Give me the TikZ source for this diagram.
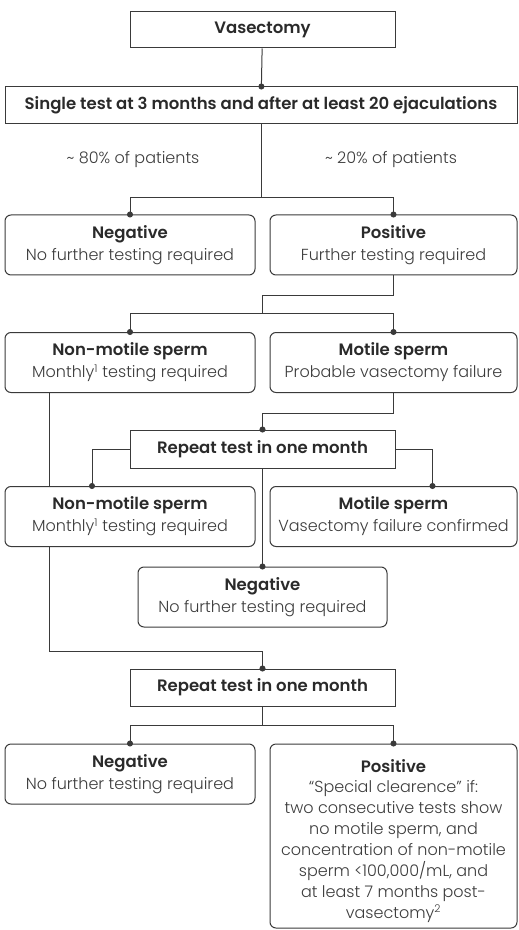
\documentclass[tikz,border=0pt]{standalone}
\usepackage{fontspec}
\setmainfont{Poppins}[UprightFont=* Light, BoldFont=* SemiBold]
\usetikzlibrary{arrows.meta,calc,positioning}
\definecolor{linegray}{HTML}{3A3A3A}
\definecolor{textgray}{HTML}{3C3C3C}
\definecolor{headgray}{HTML}{2A2A2A}
\tikzset{
  box/.style = {
    draw=linegray,
    line width=0.75pt,
    inner sep=2pt,
    align=center,
    text=textgray,
    font=\fontsize{12}{16.5}\selectfont
  },
  sbox/.style = {
    box,
    minimum height=27.75pt
  },
  rbox/.style = {
    box,
    rounded corners=4.5pt,
    minimum width=187.5pt,
    minimum height=45pt
  },
  share/.style = {
    text=textgray,
    font=\fontsize{12}{16}\selectfont
  },
  link/.style = {
    line width=0.75pt,
    draw=linegray
  },
  arc/.style = {
    link,
    -{Circle[length=4.5pt]},
    shorten >=-2.25pt
  }
}
\newcommand\head[1]{{\fontsize{12.4}{16.5}\selectfont\textbf{\color{headgray}#1}}}

\begin{document}
\begin{tikzpicture}[x=0.75pt,y=-0.75pt]
	\useasboundingbox (0,0) rectangle (518,930);
	\node[sbox, minimum width=198.75pt, minimum height=27pt] (vas) at (262.5,30) {\head{Vasectomy}};
	\node[sbox, minimum width=384pt] (single) at (261,105.5) {\head{Single test at 3 months and after at least 20 ejaculations}};
	\node[share] (p80) at (133,160) {\textasciitilde{} 80\% of patients};
	\node[share] (p20) at (391,160) {\textasciitilde{} 20\% of patients};
	
	\node[rbox] (neg) at (130,245) {\head{Negative}\\No further testing required};
	\node[rbox, minimum width=185.25pt] (pos) at (393.5,245) {\head{Positive}\\Further testing required};
	
	\node[rbox] (nm1) at (130,362.5) {\head{Non-motile sperm}\\Monthly\textsuperscript{1} testing required};
	\node[rbox, minimum width=185.25pt] (mot1) at (393.5,362.5) {\head{Motile sperm}\\Probable vasectomy failure};
	
	\node[sbox, minimum width=198.75pt, minimum height=28.5pt] (rep1) at (262.5,449) {\head{Repeat test in one month}};
	
	\node[rbox] (nm2) at (130,516.5) {\head{Non-motile sperm}\\Monthly\textsuperscript{1} testing required};
	\node[rbox, minimum width=185.25pt] (mot2) at (393.5,516.5) {\head{Motile sperm}\\Vasectomy failure confirmed};
	\node[rbox, minimum width=186.75pt] (negm) at (262.5,597) {\head{Negative}\\No further testing required};
	
	\node[sbox, minimum width=198.75pt, minimum height=27.75pt] (rep2) at (262.5,687.5) {\head{Repeat test in one month}};
	
	\node[rbox] (neg3) at (130,774) {\head{Negative}\\No further testing required};
	\node[rbox, minimum width=185.25pt, minimum height=138pt, font=\fontsize{12}{15.7}\selectfont] (pos3) at (393.5,836) {\rule{0pt}{17pt}\head{Positive}\\“Special clearence” if:\\two consecutive tests show\\no motile sperm, and\\concentration of non-motile\\sperm <100,000/mL, and\\at least 7 months post-\\vasectomy\textsuperscript{2}};
	
	\coordinate (b1) at ($(single.south)+(0,73)$);
	\coordinate (b2) at (262,313);
	\coordinate (b3) at ($(rep2.south)+(0,19)$);
	
	\draw[arc] (vas) -- (single);
	\draw[arc] (single.south) -- (b1) -| (neg.north);
	\draw[arc] (b1) -| (pos.north);
	\draw[link] (pos.south) -- ++(0,20) -| (b2);
	\draw[arc] (b2) -| (nm1.north);
	\draw[arc] (b2) -| (mot1.north);
	\draw[arc] (mot1.south) -- ++(0,20) -| (rep1.north);
	\draw[arc] (rep1.west) -| ($(nm2.north)+(-38,0)$);
	\draw[arc] (rep1.east) -| ($(mot2.north)+(39,0)$);
	\draw[arc] (rep1.south) -- (negm.north);
	\draw[link] ($(nm1.south west)+(45,0)$) -- ($(nm2.north west)+(45,0)$);
	\draw[arc] ($(nm2.south west)+(45,0)$) -- ++(0,104) -| (rep2.north);
	\draw[arc] (rep2.south) -- (b3) -| (neg3.north);
	\draw[arc] (b3) -| (pos3.north);
\end{tikzpicture}
\end{document}
